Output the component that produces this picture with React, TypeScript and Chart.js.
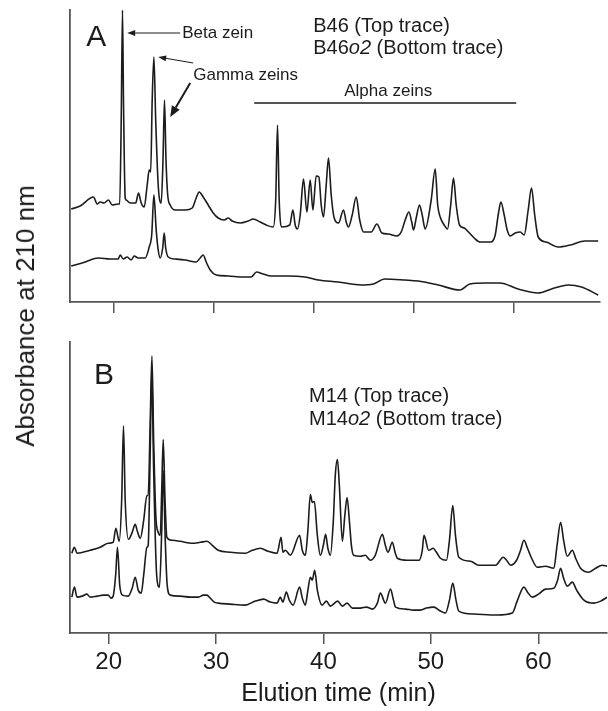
import React, { useEffect, useRef } from "react";
import { Chart, registerables } from "chart.js";

Chart.register(...registerables);

// ---------- data (elution time in min, absorbance in arbitrary units) ----------
const xTicks = [20, 30, 40, 50, 60];

// Panel A – B46 (top trace)
const aTopTime = [15.72, 16.62, 17.95, 18.32, 18.62, 19.0, 19.45, 19.82, 20.42, 20.57, 20.72, 20.85, 20.95, 21.12, 21.22, 21.62, 22.17, 22.45, 22.72, 23.02, 23.32, 23.52, 23.67, 23.82, 23.99, 24.17, 24.42, 24.72, 24.9, 25.05, 25.2, 25.37, 25.62, 26.12, 27.12, 27.82, 28.22, 28.52, 28.92, 29.42, 29.92, 30.42, 31.02, 31.42, 31.82, 32.62, 33.42, 33.92, 34.62, 35.22, 35.92, 36.17, 36.35, 36.52, 36.79, 37.57, 37.89, 38.12, 38.35, 38.62, 38.95, 39.29, 39.62, 39.89, 40.22, 40.49, 40.72, 40.95, 41.22, 41.45, 41.72, 42.02, 42.45, 42.95, 43.22, 43.45, 43.82, 44.22, 44.57, 44.95, 45.72, 46.29, 46.79, 47.42, 48.29, 48.72, 49.12, 49.49, 49.77, 49.95, 50.22, 50.55, 50.82, 51.12, 51.72, 52.12, 52.37, 52.62, 53.02, 53.35, 53.67, 53.95, 54.22, 54.55, 55.02, 55.45, 56.02, 56.62, 57.69, 58.12, 58.42, 58.69, 59.02, 59.32, 59.62, 60.12, 60.62, 61.02, 61.42, 61.75, 62.07, 62.42, 63.22, 64.42, 65.62, 67.09, 68.42];
const aTopAbs = [93, 96, 105, 98, 100, 99, 102, 97, 98, 98, 180, 292, 200, 104, 102, 99, 99, 109, 99, 95, 117, 132, 130, 202, 245, 182, 117, 99, 142, 202, 142, 107, 97, 92, 92, 94, 104, 110, 105, 97, 89, 84, 82, 84, 81, 79, 81, 83, 80, 77, 75, 102, 177, 102, 75, 77, 92, 77, 73, 87, 123, 90, 122, 92, 126, 125, 97, 85, 117, 144, 107, 84, 79, 92, 80, 75, 87, 105, 82, 70, 70, 78, 69, 68, 66, 70, 82, 90, 80, 72, 84, 97, 87, 73, 102, 133, 97, 85, 77, 73, 97, 124, 97, 77, 74, 70, 64, 60, 60, 67, 87, 100, 87, 72, 66, 69, 70, 67, 92, 114, 87, 65, 60, 55, 57, 61, 61];

// Panel A – B46o2 (bottom trace)
const aBotTime = [15.72, 17.12, 18.42, 19.62, 20.42, 20.62, 20.92, 21.32, 21.72, 22.02, 22.42, 23.12, 23.52, 23.77, 23.99, 24.22, 24.42, 24.62, 24.87, 25.02, 25.17, 25.42, 26.12, 27.12, 28.22, 28.62, 28.92, 29.22, 29.62, 30.22, 31.42, 32.92, 33.72, 34.25, 34.92, 35.72, 37.42, 39.09, 40.42, 42.42, 44.72, 45.92, 47.09, 49.09, 50.42, 52.42, 54.59, 55.59, 57.09, 58.59, 60.42, 62.42, 63.75, 65.42, 66.75, 68.42];
const aBotAbs = [36, 40, 44, 43, 43, 47, 43, 45, 42, 46, 44, 44, 55, 67, 107, 72, 52, 44, 54, 69, 54, 45, 43, 42, 40, 44, 47, 40, 32, 27, 26, 25, 25, 30, 28, 26, 26, 25, 22, 20, 17, 18, 23, 22, 21, 17, 12, 18, 19, 19, 13, 9, 13, 17, 15, 7];

// Panel B – M14 (top trace)
const bTopTime = [16.57, 16.81, 17.06, 18.28, 19.21, 19.95, 20.42, 20.67, 20.98, 21.21, 21.38, 21.54, 21.85, 22.19, 22.47, 22.7, 22.94, 23.26, 23.56, 23.68, 23.87, 24.03, 24.19, 24.4, 24.61, 24.8, 24.94, 25.08, 25.25, 25.42, 25.89, 26.66, 27.75, 28.53, 29.15, 29.65, 30.2, 31.32, 32.72, 33.37, 34.12, 34.86, 35.68, 36.05, 36.22, 36.45, 36.92, 37.78, 38.03, 38.31, 38.55, 38.78, 38.96, 39.15, 39.43, 39.71, 39.99, 40.2, 40.41, 40.64, 40.92, 41.1, 41.3, 41.48, 41.76, 41.99, 42.2, 42.41, 42.6, 42.81, 43.43, 43.9, 44.35, 44.82, 45.49, 45.76, 46.01, 46.41, 46.69, 46.88, 47.81, 48.9, 49.2, 49.36, 49.8, 50.21, 50.52, 50.89, 51.45, 51.73, 52.04, 52.29, 52.6, 53.69, 54.46, 56.02, 56.74, 57.05, 57.42, 57.98, 58.35, 58.66, 59.0, 59.38, 59.91, 60.68, 61.45, 61.75, 62.08, 62.36, 62.7, 63.17, 63.48, 63.94, 64.72, 65.34, 65.96, 66.43];
const bTopAbs = [80, 86, 80, 83, 86, 90, 91, 105, 92, 133, 208, 133, 94, 101, 109, 101, 95, 113, 138, 138, 213, 278, 193, 116, 101, 98, 143, 194, 133, 96, 93, 92, 90, 91, 92, 88, 83, 81, 80, 83, 85, 82, 80, 96, 81, 83, 78, 98, 83, 78, 103, 139, 131, 132, 98, 78, 88, 99, 85, 78, 113, 158, 174, 148, 92, 118, 136, 113, 88, 78, 77, 78, 73, 78, 99, 88, 81, 91, 80, 75, 73, 73, 83, 98, 83, 85, 81, 75, 73, 93, 128, 98, 76, 72, 68, 68, 76, 73, 68, 73, 83, 93, 85, 75, 66, 67, 65, 88, 111, 93, 77, 83, 75, 65, 61, 65, 68, 67];

// Panel B – M14o2 (bottom trace)
const bBotTime = [16.57, 16.81, 17.06, 17.53, 17.97, 18.28, 18.93, 19.49, 19.95, 20.23, 20.42, 20.65, 20.82, 21.03, 21.29, 21.82, 22.19, 22.47, 22.75, 23.03, 23.26, 23.56, 23.68, 23.87, 24.01, 24.19, 24.47, 24.73, 24.94, 25.08, 25.27, 25.45, 25.73, 26.66, 27.6, 28.37, 28.81, 29.15, 29.46, 29.83, 30.2, 31.32, 32.72, 33.65, 34.43, 35.05, 35.68, 35.98, 36.22, 36.54, 36.82, 37.17, 37.78, 38.03, 38.31, 38.55, 38.78, 38.96, 39.18, 39.43, 39.87, 40.27, 40.64, 41.32, 41.76, 42.2, 42.69, 43.43, 44.0, 44.55, 45.02, 45.3, 45.77, 46.24, 46.52, 46.71, 47.64, 48.41, 49.03, 49.59, 50.27, 50.89, 51.36, 51.73, 52.04, 52.34, 52.6, 54.0, 56.18, 57.58, 58.07, 58.66, 59.0, 59.44, 60.03, 60.68, 61.45, 61.8, 62.08, 62.36, 62.7, 63.17, 63.57, 64.25, 65.18, 65.81, 66.43];
const bBotAbs = [36, 46, 36, 37, 39, 36, 37, 38, 38, 35, 37, 58, 86, 48, 38, 37, 45, 56, 43, 40, 58, 86, 88, 183, 263, 163, 58, 46, 103, 163, 93, 48, 38, 37, 36, 36, 38, 38, 35, 31, 30, 29, 28, 32, 34, 31, 30, 36, 31, 41, 33, 28, 46, 35, 28, 43, 56, 53, 63, 43, 28, 32, 27, 32, 27, 30, 25, 25, 26, 24, 30, 40, 30, 44, 33, 26, 24, 23, 23, 25, 26, 22, 20, 33, 50, 33, 22, 19, 18, 20, 33, 46, 41, 36, 39, 44, 45, 53, 65, 55, 47, 51, 43, 33, 30, 32, 36];

// ---------- styling ----------
const FONT = '"Liberation Sans", Arial, Helvetica, sans-serif';
const INK = "#1c1c1c";
const AXIS = "#555555";

function pts(t: number[], v: number[]) {
  return t.map((x, i) => ({ x, y: v[i] }));
}

function drawArrow(ctx: CanvasRenderingContext2D, x1: number, y1: number, x2: number, y2: number, head: number, half: number, lw: number) {
  const ang = Math.atan2(y2 - y1, x2 - x1);
  const bx = x2 - head * Math.cos(ang);
  const by = y2 - head * Math.sin(ang);
  ctx.save();
  ctx.strokeStyle = INK;
  ctx.fillStyle = INK;
  ctx.lineWidth = lw;
  ctx.beginPath();
  ctx.moveTo(x1, y1);
  ctx.lineTo(bx, by);
  ctx.stroke();
  ctx.beginPath();
  ctx.moveTo(x2, y2);
  ctx.lineTo(bx + half * Math.sin(ang), by - half * Math.cos(ang));
  ctx.lineTo(bx - half * Math.sin(ang), by + half * Math.cos(ang));
  ctx.closePath();
  ctx.fill();
  ctx.restore();
}

function drawMixed(ctx: CanvasRenderingContext2D, parts: [string, boolean][], x: number, y: number, size: number) {
  let cx = x;
  for (const [txt, ital] of parts) {
    ctx.font = `${ital ? "italic " : ""}${size}px ${FONT}`;
    ctx.fillText(txt, cx, y);
    cx += ctx.measureText(txt).width;
  }
}

function baseOptions(xmin: number, xmax: number, padRight: number, padTop: number, xHeight: number, showLabels: boolean) {
  return {
    animation: false,
    responsive: false,
    devicePixelRatio: 1,
    layout: { padding: { left: 70, right: padRight, top: padTop, bottom: 0 } },
    plugins: { legend: { display: false }, tooltip: { enabled: false }, title: { display: false } },
    elements: {
      point: { radius: 0, hoverRadius: 0 },
      line: { borderWidth: 1.6, borderColor: INK, cubicInterpolationMode: "monotone", fill: false },
    },
    scales: {
      x: {
        type: "linear",
        min: xmin,
        max: xmax,
        afterBuildTicks: (s: any) => {
          s.ticks = xTicks.map((v) => ({ value: v }));
        },
        afterFit: (s: any) => {
          s.height = xHeight;
        },
        ticks: {
          display: showLabels,
          color: INK,
          font: { family: FONT, size: 24 },
          padding: 4,
          maxRotation: 0,
          autoSkip: false,
        },
        grid: { display: true, drawOnChartArea: false, drawTicks: true, tickLength: 11, color: AXIS, lineWidth: 1.5 },
        border: { display: true, color: AXIS, width: 1.8 },
        title: {
          display: showLabels,
          text: "Elution time (min)",
          color: INK,
          font: { family: FONT, size: 25 },
          padding: { top: 0, bottom: 2 },
        },
      },
      y: {
        type: "linear",
        min: 0,
        max: 292,
        afterFit: (s: any) => {
          s.width = 0;
        },
        ticks: { display: false },
        grid: { display: false },
        border: { display: true, color: AXIS, width: 1.8 },
      },
    },
  };
}

const annotA = {
  id: "annotA",
  afterDraw(chart: any) {
    const ctx: CanvasRenderingContext2D = chart.ctx;
    const X = (t: number) => chart.scales.x.getPixelForValue(t);
    const Y = (v: number) => chart.scales.y.getPixelForValue(v);
    ctx.save();
    ctx.fillStyle = INK;
    ctx.textAlign = "left";
    ctx.textBaseline = "alphabetic";
    ctx.font = `30px ${FONT}`;
    ctx.fillText("A", X(17.22), Y(256));

    ctx.font = `17px ${FONT}`;
    ctx.textBaseline = "middle";
    ctx.fillText("Beta zein", X(26.82), Y(269));
    ctx.fillText("Gamma zeins", X(27.92), Y(227));
    drawArrow(ctx, X(26.62), Y(269), X(21.32), Y(269), 8, 3, 1);
    drawArrow(ctx, X(27.92), Y(239), X(24.42), Y(245), 8, 3, 1);
    drawArrow(ctx, X(27.62), Y(219), X(25.62), Y(185), 11, 4.5, 2);

    ctx.textAlign = "center";
    ctx.fillText("Alpha zeins", X(47.42), Y(211));
    ctx.strokeStyle = INK;
    ctx.lineWidth = 1.5;
    ctx.beginPath();
    ctx.moveTo(X(34.02), Y(199));
    ctx.lineTo(X(60.22), Y(199));
    ctx.stroke();

    ctx.textAlign = "left";
    drawMixed(ctx, [["B46 (Top trace)", false]], X(39.92), Y(276), 20);
    drawMixed(ctx, [["B46", false], ["o2", true], [" (Bottom trace)", false]], X(39.92), Y(254), 20);
    ctx.restore();
  },
};

const annotB = {
  id: "annotB",
  afterDraw(chart: any) {
    const ctx: CanvasRenderingContext2D = chart.ctx;
    const X = (t: number) => chart.scales.x.getPixelForValue(t);
    const Y = (v: number) => chart.scales.y.getPixelForValue(v);
    ctx.save();
    ctx.fillStyle = INK;
    ctx.textAlign = "left";
    ctx.textBaseline = "alphabetic";
    ctx.font = `30px ${FONT}`;
    ctx.fillText("B", X(18.64), Y(250));
    ctx.textBaseline = "middle";
    drawMixed(ctx, [["M14 (Top trace)", false]], X(38.66), Y(237), 20);
    drawMixed(ctx, [["M14", false], ["o2", true], [" (Bottom trace)", false]], X(38.66), Y(214), 20);
    ctx.restore();
  },
};

export default function App() {
  const refA = useRef<HTMLCanvasElement | null>(null);
  const refB = useRef<HTMLCanvasElement | null>(null);

  useEffect(() => {
    const chartA = new Chart(refA.current as HTMLCanvasElement, {
      type: "line",
      data: {
        datasets: [
          { label: "B46", data: pts(aTopTime, aTopAbs) },
          { label: "B46o2", data: pts(aBotTime, aBotAbs) },
        ],
      },
      options: baseOptions(15.6, 68.6, 8, 10, 18, false) as any,
      plugins: [annotA],
    });
    const chartB = new Chart(refB.current as HTMLCanvasElement, {
      type: "line",
      data: {
        datasets: [
          { label: "M14", data: pts(bTopTime, bTopAbs) },
          { label: "M14o2", data: pts(bBotTime, bBotAbs) },
        ],
      },
      options: baseOptions(16.4, 66.4, 1, 22, 78, true) as any,
      plugins: [annotB],
    });
    return () => {
      chartA.destroy();
      chartB.destroy();
    };
  }, []);

  return (
    <div style={{ position: "absolute", left: 0, top: 0, width: 608, height: 711, overflow: "hidden", background: "#fff" }}>
      <canvas ref={refA} width={608} height={320} style={{ position: "absolute", left: 0, top: 0, width: 608, height: 320 }} />
      <canvas ref={refB} width={608} height={391} style={{ position: "absolute", left: 0, top: 320, width: 608, height: 391 }} />
      <div
        style={{
          position: "absolute",
          left: 25,
          top: 316,
          transform: "translate(-50%, -50%) rotate(-90deg)",
          whiteSpace: "nowrap",
          fontFamily: FONT,
          fontSize: 26,
          color: INK,
          lineHeight: 1,
        }}
      >
        Absorbance at 210 nm
      </div>
    </div>
  );
}
